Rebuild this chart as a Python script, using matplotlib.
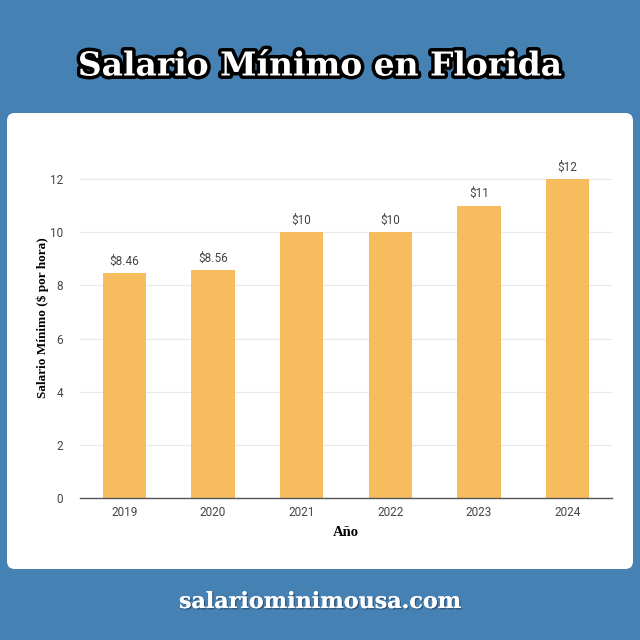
import matplotlib
matplotlib.use("Agg")
import matplotlib.pyplot as plt
import matplotlib.patheffects as pe
from matplotlib.patches import FancyBboxPatch

years = ["2019", "2020", "2021", "2022", "2023", "2024"]
wages = [8.46, 8.56, 10, 10, 11, 12]
value_labels = ["$8.46", "$8.56", "$10", "$10", "$11", "$12"]
yticks = [0, 2, 4, 6, 8, 10, 12]

W, H = 640, 640
fig = plt.figure(figsize=(6.4, 6.4), dpi=100)
fig.patch.set_facecolor("#4581b3")

def fx(px):
    return px / W

def fy(py):
    return 1 - py / H

# white rounded panel
panel = FancyBboxPatch((fx(7), fy(569)), fx(633) - fx(7), fy(113) - fy(569),
                       boxstyle="round,pad=0,rounding_size=0.012",
                       transform=fig.transFigure, facecolor="white",
                       edgecolor="none", zorder=-5)
fig.patches.append(panel)

# title
fig.text(0.5, fy(66), "Salario Mínimo en Florida", ha="center", va="center",
         fontsize=23.7, fontweight="bold", family="DejaVu Serif", color="white",
         path_effects=[pe.withStroke(linewidth=5, foreground="black")])

# footer
fig.text(0.5, fy(602), "salariominimousa.com", ha="center", va="center",
         fontsize=16, fontweight="bold", family="DejaVu Serif", color="white",
         path_effects=[pe.withSimplePatchShadow(offset=(1, -1), shadow_rgbFace="#2b4f70", alpha=0.8), pe.Normal()])

# axes
ax_left, ax_right = 80, 612
ax_bottom, ax_top = 498, 155
ax = fig.add_axes([fx(ax_left), fy(ax_bottom), fx(ax_right) - fx(ax_left), fy(ax_top) - fy(ax_bottom)])
ax.set_facecolor("none")
ax.set_zorder(2)
ymax = 12 * (ax_bottom - ax_top) / (498 - 179)
ax.set_ylim(0, ymax)
ax.set_xlim(-0.5, len(years) - 0.5)

x = list(range(len(years)))
bars = ax.bar(x, wages, width=0.485, color="#f6bc5d", zorder=2)
for xi, v, lab in zip(x, wages, value_labels):
    ax.text(xi, v + 0.2, lab, ha="center", va="bottom", fontsize=8.5,
            family="Roboto", color="#444444")

ax.set_xticks(x)
ax.set_xticklabels(years, family="Roboto", fontsize=8.5, color="#444444")
ax.set_yticks(yticks)
ax.set_yticklabels([str(t) for t in yticks], family="Roboto", fontsize=8.5, color="#444444")
ax.tick_params(axis="both", length=0)
ax.tick_params(axis="y", pad=12)
ax.tick_params(axis="x", pad=6)
ax.grid(axis="y", color="#e8e8e8", linewidth=0.9, zorder=0)
ax.set_axisbelow(True)
for s in ["top", "right", "left"]:
    ax.spines[s].set_visible(False)
ax.spines["bottom"].set_color("#555555")
ax.spines["bottom"].set_linewidth(1.0)
ax.spines["bottom"].set_zorder(3)

ax.set_xlabel("Año", family="Liberation Serif", fontweight="bold", fontsize=10.5, color="black", labelpad=5)
ax.set_ylabel("Salario Mínimo ($ por hora)", family="Liberation Serif", fontweight="bold",
              fontsize=9.5, color="black", va="center")
ax.yaxis.set_label_coords((43 - ax_left) / (ax_right - ax_left), (ax_bottom - 318) / (ax_bottom - ax_top))

fig.savefig("out.png", dpi=100, facecolor=fig.get_facecolor())
